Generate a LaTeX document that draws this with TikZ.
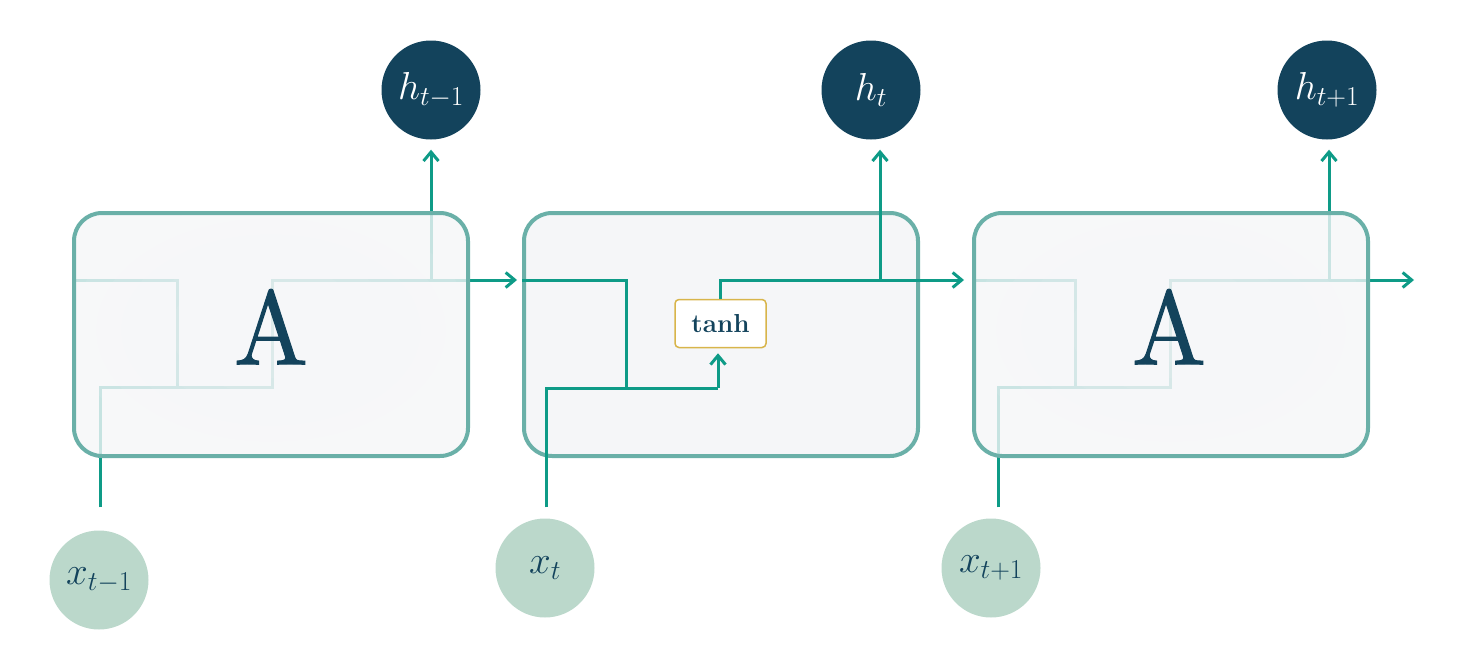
\RequirePackage{fix-cm}
\documentclass[tikz,border=0pt]{standalone}
\usetikzlibrary{arrows.meta}
\definecolor{flowc}{RGB}{14,155,135}
\definecolor{boxborder}{RGB}{106,176,168}
\definecolor{boxfill}{RGB}{245,246,248}
\definecolor{navy}{RGB}{19,67,92}
\definecolor{lightg}{RGB}{187,216,203}
\definecolor{gold}{RGB}{216,181,75}
\font\Afont="[lmroman10-regular.otf]:embolden=1;extend=0.94" at 105pt
\tikzset{
  flow/.style={draw=flowc, line width=3pt},
  arr/.style={-{Straight Barb[length=9pt,width=15pt]}},
  cellbox/.style={draw=boxborder, line width=4pt, rounded corners=28pt,
    minimum width=394pt, minimum height=243pt, inner sep=0pt, fill=boxfill},
  fadedbox/.style={cellbox, fill opacity=0.8, draw opacity=1},
  hcirc/.style={circle, fill=navy, minimum size=99pt, inner sep=0pt, text=white,
    font=\fontsize{39}{44}\selectfont},
  xcirc/.style={circle, fill=lightg, minimum size=99pt, inner sep=0pt, text=navy,
    font=\fontsize{39}{44}\selectfont},
  tanhbox/.style={draw=gold, line width=1.5pt, fill=white, rounded corners=4pt,
    minimum width=91pt, minimum height=48pt, inner sep=0pt, text=navy,
    font=\fontsize{26}{30}\selectfont\bfseries},
  bigA/.style={inner sep=0pt, text=navy, font=\Afont}
}
\begin{document}
\begin{tikzpicture}[x=1pt,y=-1pt]
\useasboundingbox (0,0) rectangle (1472,664);
% middle cell box (lines drawn over it)
\node[cellbox] (A2) at (721,334.5) {};
% circles
\node[hcirc] (h1) at (431,90) {$h_{t-1}$};
\node[hcirc] (h2) at (871,90) {$h_{t}$};
\node[hcirc] (h3) at (1327,90) {$h_{t+1}$};
\node[xcirc] (x1) at (99,580) {$x_{t-1}$};
\node[xcirc] (x2) at (545,568) {$x_{t}$};
\node[xcirc] (x3) at (991,568) {$x_{t+1}$};
\node[tanhbox] (tanh) at (720.5,323.5) {tanh};
% coordinates
\coordinate (L1) at (74,280);  \coordinate (P1) at (177,387);
\coordinate (Q1) at (272,387); \coordinate (B1) at (431,280);
\coordinate (E1) at (517,280);
\coordinate (L2) at (522,280); \coordinate (P2) at (626,388);
\coordinate (Q2) at (718,388); \coordinate (B2) at (880,280);
\coordinate (E2) at (964,280);
\coordinate (L3) at (974,280); \coordinate (P3) at (1075,387);
\coordinate (Q3) at (1170,387); \coordinate (B3) at (1329,280);
\coordinate (E3) at (1414,280);
% cell 1 lines
\draw[flow] (L1) -| (P1) -- (Q1) |- (B1);
\draw[flow] (x1.north) ++(1,-23) |- (Q1);
\draw[flow,arr] (B1) -- (E1);
\draw[flow,arr,shorten >=10pt] (B1) -- (B1 |- h1.south);
% cell 2 lines
\draw[flow] (L2) -| (P2);
\draw[flow] (x2.north) ++(1,-11) |- (Q2);
\draw[flow,arr,shorten >=5pt] (Q2) -- (Q2 |- tanh.south);
\draw[flow] (tanh.north) |- (B2);
\draw[flow,arr] (B2) -- (E2);
\draw[flow,arr,shorten >=10pt] (B2) -- (B2 |- h2.south);
% cell 3 lines
\draw[flow] (L3) -| (P3) -- (Q3) |- (B3);
\draw[flow] (x3.north) ++(7,-11) |- (Q3);
\draw[flow,arr] (B3) -- (E3);
\draw[flow,arr,shorten >=10pt] (B3) -- (B3 |- h3.south);
% faded boxes
\node[fadedbox] (A1) at (271,334.5) {};
\node[fadedbox] (A3) at (1171,334.5) {};
\foreach \cx in {271,1171}{
  \begin{scope}
    \clip[rounded corners=26pt] (\cx-195,215) rectangle (\cx+195,454);
    \foreach \k in {1,...,8}
      \fill[boxfill, fill opacity=0.1] (\cx,330) ellipse ({25*\k} and {16*\k});
  \end{scope}
}
\node[bigA] (T1) at (271,326.7) {A};
\node[bigA] (T3) at (1169,326.7) {A};
\end{tikzpicture}
\end{document}
